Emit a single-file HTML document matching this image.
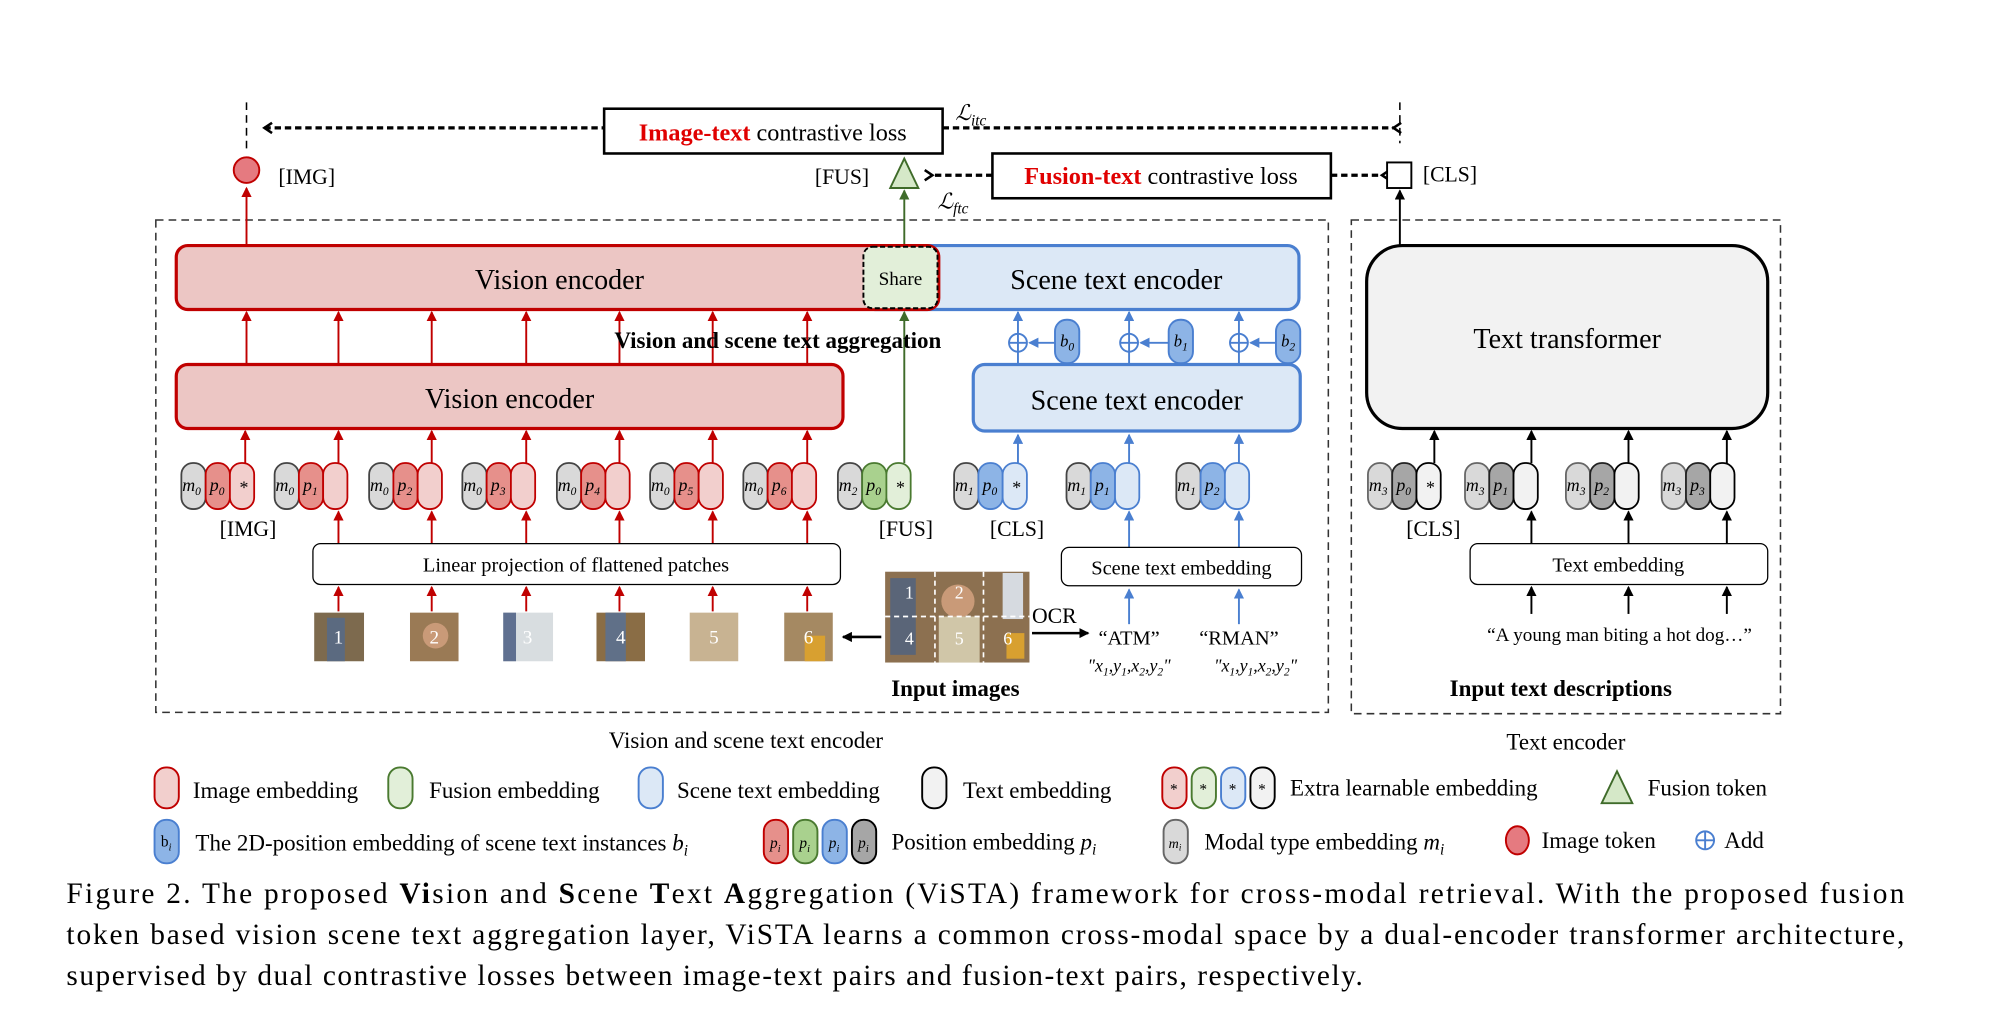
<!DOCTYPE html>
<html><head><meta charset="utf-8"><style>
html,body{margin:0;padding:0;background:#fff}
svg{display:block}
text{font-family:"Liberation Serif",serif}
.it{font-style:italic}
</style></head><body>
<svg width="2004" height="1036" viewBox="0 0 1569 810" preserveAspectRatio="none" xmlns="http://www.w3.org/2000/svg">
<defs>
<marker id="ar" markerWidth="8" markerHeight="8" refX="7" refY="4" orient="auto" markerUnits="userSpaceOnUse"><path d="M0,0 L8,4 L0,8 z" fill="#c00000"/></marker>
<marker id="ab" markerWidth="8" markerHeight="8" refX="7" refY="4" orient="auto" markerUnits="userSpaceOnUse"><path d="M0,0 L8,4 L0,8 z" fill="#4a7fd0"/></marker>
<marker id="ag" markerWidth="8" markerHeight="8" refX="7" refY="4" orient="auto" markerUnits="userSpaceOnUse"><path d="M0,0 L8,4 L0,8 z" fill="#3f6b2a"/></marker>
<marker id="ak" markerWidth="8" markerHeight="8" refX="7" refY="4" orient="auto" markerUnits="userSpaceOnUse"><path d="M0,0 L8,4 L0,8 z" fill="#000"/></marker>
<marker id="ad" markerWidth="10" markerHeight="10" refX="2" refY="5" orient="auto" markerUnits="userSpaceOnUse"><path d="M8,1 L2,5 L8,9" fill="none" stroke="#000" stroke-width="2"/></marker>
<g id="pr"><rect x="0" y="0" width="19" height="36" rx="9" fill="#d9d9d9" stroke="#444" stroke-width="1.4"/><rect x="19" y="0" width="19" height="36" rx="9" fill="#e6908b" stroke="#c00000" stroke-width="1.4"/><rect x="38" y="0" width="19" height="36" rx="9" fill="#f2cfcd" stroke="#c00000" stroke-width="1.4"/></g>
<g id="pg"><rect x="0" y="0" width="19" height="36" rx="9" fill="#d9d9d9" stroke="#444" stroke-width="1.4"/><rect x="19" y="0" width="19" height="36" rx="9" fill="#a9d18e" stroke="#4a7a30" stroke-width="1.4"/><rect x="38" y="0" width="19" height="36" rx="9" fill="#e2efd9" stroke="#4a7a30" stroke-width="1.4"/></g>
<g id="pb"><rect x="0" y="0" width="19" height="36" rx="9" fill="#d9d9d9" stroke="#444" stroke-width="1.4"/><rect x="19" y="0" width="19" height="36" rx="9" fill="#8db4e6" stroke="#4a7fd0" stroke-width="1.4"/><rect x="38" y="0" width="19" height="36" rx="9" fill="#dce8f6" stroke="#4a7fd0" stroke-width="1.4"/></g>
<g id="pk"><rect x="0" y="0" width="19" height="36" rx="9" fill="#d9d9d9" stroke="#666" stroke-width="1.4"/><rect x="19" y="0" width="19" height="36" rx="9" fill="#a6a6a6" stroke="#222" stroke-width="1.4"/><rect x="38" y="0" width="19" height="36" rx="9" fill="#f2f2f2" stroke="#000" stroke-width="1.4"/></g>
</defs>

<!-- top losses -->
<line x1="193" y1="80" x2="193" y2="118" stroke="#000" stroke-width="1.2" stroke-dasharray="6,4"/>
<line x1="1096" y1="80" x2="1096" y2="112" stroke="#000" stroke-width="1.2" stroke-dasharray="6,4"/>
<line x1="207" y1="100" x2="473" y2="100" stroke="#000" stroke-width="2.5" stroke-dasharray="5,3" marker-start="url(#ad)"/>
<line x1="738" y1="100" x2="1091" y2="100" stroke="#000" stroke-width="2.5" stroke-dasharray="5,3" marker-end="url(#ad)" />
<rect x="473" y="85" width="265" height="35" fill="#fff" stroke="#000" stroke-width="2"/>
<text x="605" y="110" font-size="19" text-anchor="middle"><tspan fill="#e00000" font-weight="bold">Image-text</tspan> contrastive loss</text>
<text x="748" y="94" font-size="17" class="it">ℒ<tspan font-size="12" dy="4">itc</tspan></text>
<circle cx="193" cy="133" r="10" fill="#e57a80" stroke="#c00000" stroke-width="1.5"/>
<text x="218" y="144" font-size="17">[IMG]</text>
<text x="638" y="144" font-size="17">[FUS]</text>
<polygon points="708,124 697,147 719,147" fill="#d5e8c8" stroke="#3f6b2a" stroke-width="1.5"/>
<line x1="777" y1="137" x2="730" y2="137" stroke="#000" stroke-width="2.5" stroke-dasharray="5,3" marker-end="url(#ad)"/>
<line x1="1042" y1="137" x2="1082" y2="137" stroke="#000" stroke-width="2.5" stroke-dasharray="5,3" marker-end="url(#ad)"/>
<rect x="777" y="120" width="265" height="35" fill="#fff" stroke="#000" stroke-width="2"/>
<text x="909" y="144" font-size="19" text-anchor="middle"><tspan fill="#e00000" font-weight="bold">Fusion-text</tspan>  contrastive loss</text>
<text x="734" y="163" font-size="17" class="it">ℒ<tspan font-size="12" dy="4">ftc</tspan></text>
<rect x="1086" y="127" width="19" height="20" fill="#fff" stroke="#000" stroke-width="1.5"/>
<text x="1114" y="142" font-size="17">[CLS]</text>

<!-- dashed containers -->
<rect x="122" y="172" width="918" height="385" fill="none" stroke="#333" stroke-width="1.2" stroke-dasharray="6,4"/>
<rect x="1058" y="172" width="336" height="386" fill="none" stroke="#333" stroke-width="1.2" stroke-dasharray="6,4"/>

<!-- upward main lines -->
<line x1="193" y1="192" x2="193" y2="147" stroke="#c00000" stroke-width="1.5" marker-end="url(#ar)"/>
<line x1="708" y1="192" x2="708" y2="149" stroke="#3f6b2a" stroke-width="1.5" marker-end="url(#ag)"/>
<line x1="1096" y1="192" x2="1096" y2="149" stroke="#000" stroke-width="1.5" marker-end="url(#ak)"/>

<!-- top encoders -->
<rect x="676" y="192" width="341" height="50" rx="9" fill="#dce8f6" stroke="#4a7fd0" stroke-width="2.5"/>
<rect x="138" y="192" width="597" height="50" rx="9" fill="#ecc6c4" stroke="#c00000" stroke-width="2.5"/>
<rect x="676" y="193" width="58" height="48" rx="7" fill="#e2efd9" stroke="#000" stroke-width="1.5" stroke-dasharray="4,2"/>
<text x="438" y="226" font-size="22" text-anchor="middle">Vision encoder</text>
<text x="705" y="223" font-size="15" text-anchor="middle">Share</text>
<text x="874" y="226" font-size="22" text-anchor="middle">Scene text encoder</text>

<!-- red arrows between encoders -->
<g stroke="#c00000" stroke-width="1.5" marker-end="url(#ar)">
<line x1="193" y1="285" x2="193" y2="244"/><line x1="265" y1="285" x2="265" y2="244"/><line x1="338" y1="285" x2="338" y2="244"/><line x1="412" y1="285" x2="412" y2="244"/><line x1="485" y1="285" x2="485" y2="244"/><line x1="558" y1="285" x2="558" y2="244"/><line x1="632" y1="285" x2="632" y2="244"/>
</g>
<line x1="708" y1="362" x2="708" y2="244" stroke="#3f6b2a" stroke-width="1.5" marker-end="url(#ag)"/>
<text x="609" y="272" font-size="18" font-weight="bold" text-anchor="middle">Vision and scene text aggregation</text>

<!-- blue adds -->
<g stroke="#4a7fd0" stroke-width="1.5" fill="none">
<line x1="797" y1="285" x2="797" y2="244" marker-end="url(#ab)"/>
<line x1="884" y1="285" x2="884" y2="244" marker-end="url(#ab)"/>
<line x1="970" y1="285" x2="970" y2="244" marker-end="url(#ab)"/>
<circle cx="797" cy="268" r="7" fill="#fff"/><line x1="790" y1="268" x2="804" y2="268"/><line x1="797" y1="261" x2="797" y2="275"/>
<circle cx="884" cy="268" r="7" fill="#fff"/><line x1="877" y1="268" x2="891" y2="268"/><line x1="884" y1="261" x2="884" y2="275"/>
<circle cx="970" cy="268" r="7" fill="#fff"/><line x1="963" y1="268" x2="977" y2="268"/><line x1="970" y1="261" x2="970" y2="275"/>
<line x1="826" y1="268" x2="806" y2="268" marker-end="url(#ab)"/>
<line x1="915" y1="268" x2="893" y2="268" marker-end="url(#ab)"/>
<line x1="999" y1="268" x2="979" y2="268" marker-end="url(#ab)"/>
<rect x="826" y="250" width="19" height="34" rx="9" fill="#8db4e6"/>
<rect x="915" y="250" width="19" height="34" rx="9" fill="#8db4e6"/>
<rect x="999" y="250" width="19" height="34" rx="9" fill="#8db4e6"/>
</g>
<g font-size="13" class="it"><text x="830" y="271">b<tspan font-size="9" dy="3">0</tspan></text><text x="919" y="271">b<tspan font-size="9" dy="3">1</tspan></text><text x="1003" y="271">b<tspan font-size="9" dy="3">2</tspan></text></g>

<!-- lower encoders -->
<rect x="138" y="285" width="522" height="50" rx="9" fill="#ecc6c4" stroke="#c00000" stroke-width="2.5"/>
<text x="399" y="319" font-size="22" text-anchor="middle">Vision encoder</text>
<rect x="762" y="285" width="256" height="52" rx="9" fill="#dce8f6" stroke="#4a7fd0" stroke-width="2.5"/>
<text x="890" y="320" font-size="22" text-anchor="middle">Scene text encoder</text>
<rect x="1070" y="192" width="314" height="143" rx="28" fill="#f2f2f2" stroke="#000" stroke-width="2.5"/>
<text x="1227" y="272" font-size="22" text-anchor="middle">Text transformer</text>

<!-- token arrows up -->
<g stroke="#c00000" stroke-width="1.5" marker-end="url(#ar)">
<line x1="192" y1="362" x2="192" y2="337"/><line x1="265" y1="362" x2="265" y2="337"/><line x1="338" y1="362" x2="338" y2="337"/><line x1="412" y1="362" x2="412" y2="337"/><line x1="485" y1="362" x2="485" y2="337"/><line x1="558" y1="362" x2="558" y2="337"/><line x1="632" y1="362" x2="632" y2="337"/>
<line x1="265" y1="425" x2="265" y2="400"/><line x1="338" y1="425" x2="338" y2="400"/><line x1="412" y1="425" x2="412" y2="400"/><line x1="485" y1="425" x2="485" y2="400"/><line x1="558" y1="425" x2="558" y2="400"/><line x1="632" y1="425" x2="632" y2="400"/>
<line x1="265" y1="478" x2="265" y2="459"/><line x1="338" y1="478" x2="338" y2="459"/><line x1="412" y1="478" x2="412" y2="459"/><line x1="485" y1="478" x2="485" y2="459"/><line x1="558" y1="478" x2="558" y2="459"/><line x1="632" y1="478" x2="632" y2="459"/>
</g>
<g stroke="#4a7fd0" stroke-width="1.5" marker-end="url(#ab)">
<line x1="797" y1="362" x2="797" y2="340"/><line x1="884" y1="362" x2="884" y2="340"/><line x1="970" y1="362" x2="970" y2="340"/>
<line x1="884" y1="428" x2="884" y2="400"/><line x1="970" y1="428" x2="970" y2="400"/>
<line x1="884" y1="488" x2="884" y2="461"/><line x1="970" y1="488" x2="970" y2="461"/>
</g>
<g stroke="#000" stroke-width="1.5" marker-end="url(#ak)">
<line x1="1123" y1="362" x2="1123" y2="337"/><line x1="1199" y1="362" x2="1199" y2="337"/><line x1="1275" y1="362" x2="1275" y2="337"/><line x1="1352" y1="362" x2="1352" y2="337"/>
<line x1="1199" y1="425" x2="1199" y2="400"/><line x1="1275" y1="425" x2="1275" y2="400"/><line x1="1352" y1="425" x2="1352" y2="400"/>
<line x1="1199" y1="480" x2="1199" y2="459"/><line x1="1275" y1="480" x2="1275" y2="459"/><line x1="1352" y1="480" x2="1352" y2="459"/>
</g>

<!-- pills -->
<use href="#pr" x="142" y="362"/><use href="#pr" x="215" y="362"/><use href="#pr" x="289" y="362"/><use href="#pr" x="362" y="362"/><use href="#pr" x="436" y="362"/><use href="#pr" x="509" y="362"/><use href="#pr" x="582" y="362"/>
<use href="#pg" x="656" y="362"/>
<use href="#pb" x="747" y="362"/><use href="#pb" x="835" y="362"/><use href="#pb" x="921" y="362"/>
<use href="#pk" x="1071" y="362"/><use href="#pk" x="1147" y="362"/><use href="#pk" x="1226" y="362"/><use href="#pk" x="1301" y="362"/>
<g font-size="14" class="it" text-anchor="middle">
<text x="150" y="384">m<tspan font-size="9" dy="3">0</tspan></text><text x="170" y="384">p<tspan font-size="9" dy="3">0</tspan></text><text x="191" y="386" font-style="normal">*</text>
<text x="223" y="384">m<tspan font-size="9" dy="3">0</tspan></text><text x="243" y="384">p<tspan font-size="9" dy="3">1</tspan></text>
<text x="297" y="384">m<tspan font-size="9" dy="3">0</tspan></text><text x="317" y="384">p<tspan font-size="9" dy="3">2</tspan></text>
<text x="370" y="384">m<tspan font-size="9" dy="3">0</tspan></text><text x="390" y="384">p<tspan font-size="9" dy="3">3</tspan></text>
<text x="444" y="384">m<tspan font-size="9" dy="3">0</tspan></text><text x="464" y="384">p<tspan font-size="9" dy="3">4</tspan></text>
<text x="517" y="384">m<tspan font-size="9" dy="3">0</tspan></text><text x="537" y="384">p<tspan font-size="9" dy="3">5</tspan></text>
<text x="590" y="384">m<tspan font-size="9" dy="3">0</tspan></text><text x="610" y="384">p<tspan font-size="9" dy="3">6</tspan></text>
<text x="664" y="384">m<tspan font-size="9" dy="3">2</tspan></text><text x="684" y="384">p<tspan font-size="9" dy="3">0</tspan></text><text x="705" y="386" font-style="normal">*</text>
<text x="755" y="384">m<tspan font-size="9" dy="3">1</tspan></text><text x="775" y="384">p<tspan font-size="9" dy="3">0</tspan></text><text x="796" y="386" font-style="normal">*</text>
<text x="843" y="384">m<tspan font-size="9" dy="3">1</tspan></text><text x="863" y="384">p<tspan font-size="9" dy="3">1</tspan></text>
<text x="929" y="384">m<tspan font-size="9" dy="3">1</tspan></text><text x="949" y="384">p<tspan font-size="9" dy="3">2</tspan></text>
<text x="1079" y="384">m<tspan font-size="9" dy="3">3</tspan></text><text x="1099" y="384">p<tspan font-size="9" dy="3">0</tspan></text><text x="1120" y="386" font-style="normal">*</text>
<text x="1155" y="384">m<tspan font-size="9" dy="3">3</tspan></text><text x="1175" y="384">p<tspan font-size="9" dy="3">1</tspan></text>
<text x="1234" y="384">m<tspan font-size="9" dy="3">3</tspan></text><text x="1254" y="384">p<tspan font-size="9" dy="3">2</tspan></text>
<text x="1309" y="384">m<tspan font-size="9" dy="3">3</tspan></text><text x="1329" y="384">p<tspan font-size="9" dy="3">3</tspan></text>
</g>
<g font-size="17"><text x="172" y="419">[IMG]</text><text x="688" y="419">[FUS]</text><text x="775" y="419">[CLS]</text><text x="1101" y="419">[CLS]</text></g>

<!-- embedding boxes -->
<rect x="245" y="425" width="413" height="32" rx="6" fill="#fff" stroke="#000" stroke-width="1"/>
<text x="451" y="447" font-size="16" text-anchor="middle">Linear projection of flattened patches</text>
<rect x="831" y="428" width="188" height="30" rx="6" fill="#fff" stroke="#000" stroke-width="1"/>
<text x="925" y="449" font-size="16" text-anchor="middle">Scene text embedding</text>
<rect x="1151" y="425" width="233" height="32" rx="6" fill="#fff" stroke="#000" stroke-width="1"/>
<text x="1267" y="447" font-size="16" text-anchor="middle">Text embedding</text>

<!-- patches -->
<rect x="246" y="479" width="39" height="38" fill="#7d6a4e"/><rect x="256" y="483" width="14" height="34" fill="#5b6a80"/>
<rect x="321" y="479" width="38" height="38" fill="#9a7a55"/><circle cx="341" cy="497" r="10" fill="#c99a78"/>
<rect x="394" y="479" width="39" height="38" fill="#d8dde0"/><rect x="394" y="479" width="10" height="38" fill="#5f7090"/>
<rect x="467" y="479" width="38" height="38" fill="#8a6d45"/><rect x="474" y="479" width="16" height="38" fill="#607088"/>
<rect x="540" y="479" width="38" height="38" fill="#c8b392"/>
<rect x="614" y="479" width="38" height="38" fill="#a58962"/><rect x="630" y="497" width="16" height="20" fill="#d8a030"/>
<g fill="#fff" font-size="15" text-anchor="middle"><text x="265" y="503">1</text><text x="340" y="503">2</text><text x="413" y="503">3</text><text x="486" y="503">4</text><text x="559" y="503">5</text><text x="633" y="503">6</text></g>
<line x1="690" y1="498" x2="660" y2="498" stroke="#000" stroke-width="2" marker-end="url(#ak)"/>
<rect x="693" y="447" width="113" height="71" fill="#8c7050"/>
<rect x="697" y="452" width="20" height="60" fill="#5a6578"/><circle cx="750" cy="470" r="13" fill="#c99a78"/><rect x="735" y="482" width="32" height="36" fill="#d0c6a8"/><rect x="785" y="448" width="16" height="36" fill="#d6dae0"/><rect x="788" y="495" width="14" height="20" fill="#d8a030"/>
<g stroke="#fff" stroke-width="1.3" stroke-dasharray="4,3"><line x1="693" y1="482" x2="806" y2="482"/><line x1="732" y1="447" x2="732" y2="518"/><line x1="770" y1="447" x2="770" y2="518"/></g>
<g fill="#fff" font-size="14" text-anchor="middle"><text x="712" y="468">1</text><text x="751" y="468">2</text><text x="712" y="504">4</text><text x="751" y="504">5</text><text x="789" y="504">6</text></g>
<line x1="808" y1="495" x2="852" y2="495" stroke="#000" stroke-width="2" marker-end="url(#ak)"/>
<text x="808" y="487" font-size="17">OCR</text>
<text x="884" y="504" font-size="16" text-anchor="middle">“ATM”</text>
<text x="970" y="504" font-size="16" text-anchor="middle">“RMAN”</text>
<text x="884" y="525" font-size="14" text-anchor="middle" class="it">"x<tspan font-size="9" dy="3">1</tspan><tspan dy="-3">,</tspan>y<tspan font-size="9" dy="3">1</tspan><tspan dy="-3">,</tspan>x<tspan font-size="9" dy="3">2</tspan><tspan dy="-3">,</tspan>y<tspan font-size="9" dy="3">2</tspan><tspan dy="-3">"</tspan></text>
<text x="983" y="525" font-size="14" text-anchor="middle" class="it">"x<tspan font-size="9" dy="3">1</tspan><tspan dy="-3">,</tspan>y<tspan font-size="9" dy="3">1</tspan><tspan dy="-3">,</tspan>x<tspan font-size="9" dy="3">2</tspan><tspan dy="-3">,</tspan>y<tspan font-size="9" dy="3">2</tspan><tspan dy="-3">"</tspan></text>
<text x="748" y="544" font-size="18" font-weight="bold" text-anchor="middle">Input images</text>
<text x="1268" y="501" font-size="15" text-anchor="middle">“A young man biting a hot dog…”</text>
<text x="1222" y="544" font-size="18" font-weight="bold" text-anchor="middle">Input text descriptions</text>
<text x="584" y="585" font-size="18" text-anchor="middle">Vision and scene text encoder</text>
<text x="1226" y="586" font-size="18" text-anchor="middle">Text encoder</text>

<!-- legend row 1 -->
<rect x="121" y="600" width="19" height="32" rx="9" fill="#f2cfcd" stroke="#c00000" stroke-width="1.5"/>
<text x="151" y="624" font-size="18">Image embedding</text>
<rect x="304" y="600" width="19" height="32" rx="9" fill="#e2efd9" stroke="#4a7a30" stroke-width="1.5"/>
<text x="336" y="624" font-size="18">Fusion embedding</text>
<rect x="500" y="600" width="19" height="32" rx="9" fill="#dce8f6" stroke="#4a7fd0" stroke-width="1.5"/>
<text x="530" y="624" font-size="18">Scene text embedding</text>
<rect x="722" y="600" width="19" height="32" rx="9" fill="#f2f2f2" stroke="#000" stroke-width="1.5"/>
<text x="754" y="624" font-size="18">Text embedding</text>
<rect x="910" y="600" width="19" height="32" rx="9" fill="#f2cfcd" stroke="#c00000" stroke-width="1.5"/>
<rect x="933" y="600" width="19" height="32" rx="9" fill="#e2efd9" stroke="#4a7a30" stroke-width="1.5"/>
<rect x="956" y="600" width="19" height="32" rx="9" fill="#dce8f6" stroke="#4a7fd0" stroke-width="1.5"/>
<rect x="979" y="600" width="19" height="32" rx="9" fill="#f2f2f2" stroke="#000" stroke-width="1.5"/>
<g font-size="12" text-anchor="middle"><text x="919" y="621">*</text><text x="942" y="621">*</text><text x="965" y="621">*</text><text x="988" y="621">*</text></g>
<text x="1010" y="622" font-size="18">Extra learnable embedding</text>
<polygon points="1266,603 1254,628 1278,628" fill="#d5e8c8" stroke="#3f6b2a" stroke-width="1.5"/>
<text x="1290" y="622" font-size="18">Fusion token</text>
<!-- legend row 2 -->
<rect x="121" y="641" width="19" height="34" rx="9" fill="#8db4e6" stroke="#4a7fd0" stroke-width="1.5"/>
<text x="126" y="662" font-size="12">b<tspan font-size="8" dy="3" class="it">i</tspan></text>
<text x="153" y="665" font-size="18">The 2D-position embedding of scene text instances  <tspan class="it">b<tspan font-size="12" dy="4">i</tspan></tspan></text>
<rect x="598" y="641" width="19" height="34" rx="9" fill="#e6908b" stroke="#c00000" stroke-width="1.5"/>
<rect x="621" y="641" width="19" height="34" rx="9" fill="#a9d18e" stroke="#4a7a30" stroke-width="1.5"/>
<rect x="644" y="641" width="19" height="34" rx="9" fill="#8db4e6" stroke="#4a7fd0" stroke-width="1.5"/>
<rect x="667" y="641" width="19" height="34" rx="9" fill="#a6a6a6" stroke="#000" stroke-width="1.5"/>
<g font-size="12" class="it" text-anchor="middle"><text x="607" y="663">p<tspan font-size="8" dy="3">i</tspan></text><text x="630" y="663">p<tspan font-size="8" dy="3">i</tspan></text><text x="653" y="663">p<tspan font-size="8" dy="3">i</tspan></text><text x="676" y="663">p<tspan font-size="8" dy="3">i</tspan></text></g>
<text x="698" y="664" font-size="18">Position embedding <tspan class="it">p<tspan font-size="12" dy="4">i</tspan></tspan></text>
<rect x="911" y="641" width="19" height="34" rx="9" fill="#d9d9d9" stroke="#666" stroke-width="1.5"/>
<text x="915" y="663" font-size="11" class="it">m<tspan font-size="7" dy="2">i</tspan></text>
<text x="943" y="664" font-size="18">Modal type embedding  <tspan class="it">m<tspan font-size="12" dy="4">i</tspan></tspan></text>
<ellipse cx="1188" cy="657" rx="9" ry="11" fill="#e57a80" stroke="#c00000" stroke-width="1.5"/>
<text x="1207" y="663" font-size="18">Image token</text>
<circle cx="1335" cy="657" r="7" fill="none" stroke="#4a7fd0" stroke-width="1.5"/><line x1="1328" y1="657" x2="1342" y2="657" stroke="#4a7fd0" stroke-width="1.5"/><line x1="1335" y1="650" x2="1335" y2="664" stroke="#4a7fd0" stroke-width="1.5"/>
<text x="1350" y="663" font-size="18">Add</text>

<!-- caption -->
<text x="52" y="706" font-size="23" textLength="1439" lengthAdjust="spacing">Figure 2.  The proposed <tspan font-weight="bold">Vi</tspan>sion and <tspan font-weight="bold">S</tspan>cene <tspan font-weight="bold">T</tspan>ext <tspan font-weight="bold">A</tspan>ggregation (ViSTA) framework for cross-modal retrieval.  With the proposed fusion</text>
<text x="52" y="738" font-size="23" textLength="1439" lengthAdjust="spacing">token based vision scene text aggregation layer, ViSTA learns a common cross-modal space by a dual-encoder transformer architecture,</text>
<text x="52" y="770" font-size="23" textLength="1015" lengthAdjust="spacing">supervised by dual contrastive losses between image-text pairs and fusion-text pairs, respectively.</text>
</svg>
</body></html>
